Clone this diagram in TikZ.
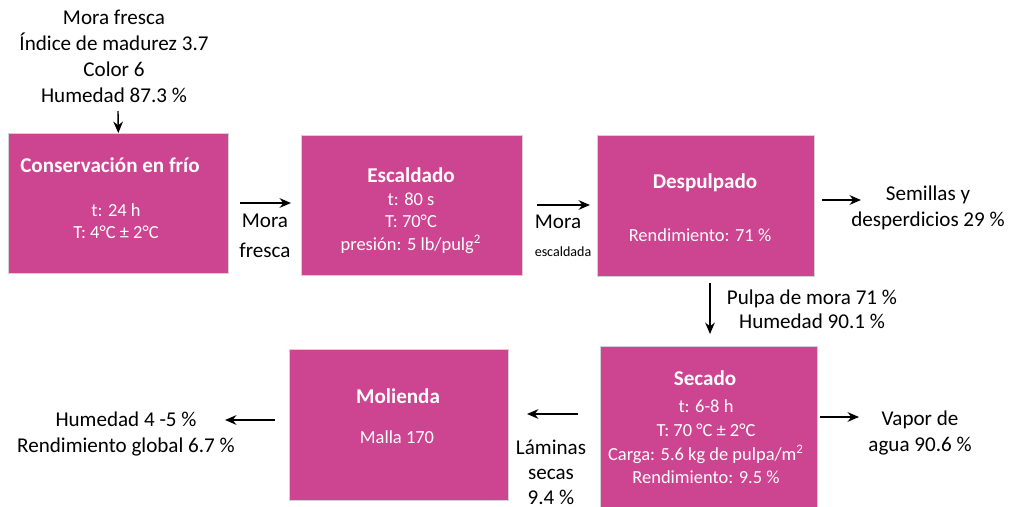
\documentclass[tikz,border=0pt]{standalone}
\usepackage{fontspec}
\setmainfont{Carlito}
\usetikzlibrary{arrows.meta}
\definecolor{mora}{RGB}{205,68,145}
\tikzset{
  etapa/.style={fill=mora, draw=gray!35, line width=0.4pt, anchor=north west, inner sep=0pt},
  titulo/.style={text=white, font=\fontsize{12}{15}\selectfont\bfseries, inner sep=0pt},
  dato/.style={text=white, font=\fontsize{10.5}{12.8}\selectfont, align=center, inner sep=0pt},
  nota/.style={font=\fontsize{12}{14.8}\selectfont, align=center, inner sep=0pt},
  flujo/.style={-{Stealth[length=6.5pt,width=5.5pt]}, line width=0.8pt},
}
\begin{document}
\begin{tikzpicture}[x=0.02cm,y=-0.02cm]
  \useasboundingbox (0,0) rectangle (1021,507);

  % Etapas
  \node[etapa, minimum width=4.4cm, minimum height=2.8cm] (cons) at (8,133) {};
  \node[etapa, minimum width=4.42cm, minimum height=2.8cm] (esca) at (301,135) {};
  \node[etapa, minimum width=4.34cm, minimum height=2.82cm] (desp) at (597,135) {};
  \node[etapa, minimum width=4.34cm, minimum height=3.3cm] (seca) at (600,346) {};
  \node[etapa, minimum width=4.38cm, minimum height=3.02cm] (moli) at (289,349) {};

  % Textos de las etapas
  \node[titulo] (cons-t) at (110,165) {Conservación en frío};
  \node[dato] (cons-d) at (116,221) {t: 24 h\\T: 4°C ± 2°C};
  \node[titulo] (esca-t) at (411,175) {Escaldado};
  \node[dato] (esca-d) at (411,223) {t: 80 s\\T: 70°C\\presión: 5 lb/pulg\textsuperscript{2}};
  \node[titulo] (desp-t) at (705,183) {Despulpado};
  \node[dato] (desp-d) at (700,235) {Rendimiento: 71 \%};
  \node[titulo] (seca-t) at (705,378) {Secado};
  \node[dato, font=\fontsize{10.5}{13.5}\selectfont] (seca-d) at (706,442) {t: 6-8 h\\T: 70 °C ± 2°C\\Carga: 5.6 kg de pulpa/m\textsuperscript{2}\\Rendimiento: 9.5 \%};
  \node[titulo] (moli-t) at (398,396) {Molienda};
  \node[dato] (moli-d) at (397,437) {Malla 170};

  % Entradas y salidas
  \node[nota] (entrada) at (114,56) {Mora fresca\\Índice de madurez 3.7\\Color 6\\Humedad 87.3 \%};
  \node[nota, font=\fontsize{12}{17}\selectfont] (fresca) at (265,236) {Mora\\fresca};
  \node[nota] (mora-e) at (558,222) {Mora};
  \node[nota, font=\fontsize{8}{10}\selectfont] (escaldada) at (563,252) {escaldada};
  \node[nota] (semillas) at (928,208) {Semillas y\\desperdicios 29 \%};
  \node[nota, font=\fontsize{12}{13.5}\selectfont] (pulpa) at (812,309) {Pulpa de mora 71 \%\\Humedad 90.1 \%};
  \node[nota] (vapor) at (920,433) {Vapor de\\agua 90.6 \%};
  \node[nota, font=\fontsize{12}{14.2}\selectfont] (laminas) at (551,472) {Láminas\\secas\\9.4 \%};
  \node[nota] (harina) at (126,434) {Humedad 4 -5 \%\\Rendimiento global 6.7 \%};

  % Flechas
  \coordinate (e1) at (118,111);
  \coordinate (a1) at (240,203); \coordinate (b1) at (291,203);
  \coordinate (a2) at (537,205); \coordinate (b2) at (590,205);
  \coordinate (a3) at (822,200); \coordinate (b3) at (861,200);
  \coordinate (a4) at (710,283); \coordinate (b4) at (710,334);
  \coordinate (a5) at (820,417); \coordinate (b5) at (859,417);
  \coordinate (a6) at (578,414); \coordinate (b6) at (527,414);
  \coordinate (a7) at (275,420); \coordinate (b7) at (225,420);
  \draw[flujo] (e1) -- (cons.north);
  \foreach \i in {1,...,7}
    \draw[flujo] (a\i) -- (b\i);
\end{tikzpicture}
\end{document}
